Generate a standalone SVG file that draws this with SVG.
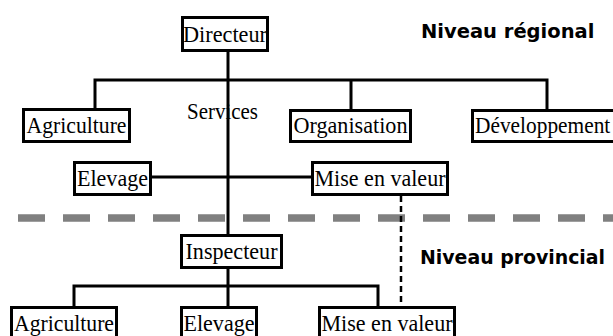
<svg xmlns="http://www.w3.org/2000/svg" width="613" height="336" viewBox="0 0 613 336">
  <style>
    .box rect { fill: #fff; stroke: #000; stroke-width: 3; }
    .box text { font-family: "Liberation Serif", "Times New Roman", serif; font-size: 23px; fill: #000; text-anchor: middle; }
    .lbl { font-family: "Liberation Serif", "Times New Roman", serif; font-size: 23px; fill: #000; }
    .lvl { font-family: "DejaVu Sans", Verdana, sans-serif; font-size: 20px; font-weight: bold; fill: #000; }
    .ln { stroke: #000; stroke-width: 3; fill: none; }
    .dash { stroke: #000; stroke-width: 2.5; fill: none; stroke-dasharray: 6 4; }
  </style>

  <!-- level separator -->
  <line x1="18" y1="218" x2="613" y2="218" stroke="#808080" stroke-width="7.5" stroke-dasharray="27 18"/>

  <!-- connectors -->
  <g id="connectors">
    <path class="ln" d="M228 52 V234"/>
    <path class="ln" d="M95 108 V80 H547 V109 M351 80 V109"/>
    <path class="ln" d="M152 177 H311"/>
    <path class="ln" d="M228 269 V286 M74 306 V286 H378 V306 M228 286 V306"/>
    <path class="dash" d="M401 196 V306"/>
  </g>

  <text class="lbl" x="187" y="119" textLength="71" lengthAdjust="spacingAndGlyphs">Services</text>
  <!-- level captions, narrowed horizontally -->
  <text class="lvl" transform="translate(421 38) scale(0.975 1)">Niveau régional</text>
  <text class="lvl" transform="translate(420 264) scale(0.945 1)">Niveau provincial</text>

  <!-- regional level -->
  <g id="directeur" class="box">
    <rect x="182.5" y="17.5" width="85" height="33"/>
    <text x="225" y="41.5" textLength="84" lengthAdjust="spacingAndGlyphs">Directeur</text>
  </g>
  <g id="agriculture-reg" class="box">
    <rect x="23.5" y="109.5" width="106" height="32"/>
    <text x="76.5" y="133" textLength="100" lengthAdjust="spacingAndGlyphs">Agriculture</text>
  </g>
  <g id="organisation" class="box">
    <rect x="290.5" y="110.5" width="120" height="31"/>
    <text x="350.5" y="133" textLength="114" lengthAdjust="spacingAndGlyphs">Organisation</text>
  </g>
  <g id="developpement" class="box">
    <rect x="472.5" y="110.5" width="160" height="31"/>
    <text transform="translate(475 133) scale(0.93 1)" style="text-anchor:start">Développement</text>
  </g>
  <g id="elevage-reg" class="box">
    <rect x="74.5" y="162.5" width="76" height="32"/>
    <text x="112.5" y="186" textLength="71" lengthAdjust="spacingAndGlyphs">Elevage</text>
  </g>
  <g id="mise-en-valeur-reg" class="box">
    <rect x="312.5" y="162.5" width="135" height="32"/>
    <text x="380" y="186" textLength="131" lengthAdjust="spacingAndGlyphs">Mise en valeur</text>
  </g>

  <!-- provincial level -->
  <g id="inspecteur" class="box">
    <rect x="181.5" y="235.5" width="100" height="32"/>
    <text x="231.5" y="259" textLength="92" lengthAdjust="spacingAndGlyphs">Inspecteur</text>
  </g>
  <g id="agriculture-prov" class="box">
    <rect x="11.5" y="307.5" width="105" height="40"/>
    <text x="64" y="331" textLength="100" lengthAdjust="spacingAndGlyphs">Agriculture</text>
  </g>
  <g id="elevage-prov" class="box">
    <rect x="181.5" y="307.5" width="75" height="40"/>
    <text x="219" y="331" textLength="71" lengthAdjust="spacingAndGlyphs">Elevage</text>
  </g>
  <g id="mise-en-valeur-prov" class="box">
    <rect x="319.5" y="307.5" width="135" height="40"/>
    <text x="387" y="331" textLength="131" lengthAdjust="spacingAndGlyphs">Mise en valeur</text>
  </g>
</svg>
